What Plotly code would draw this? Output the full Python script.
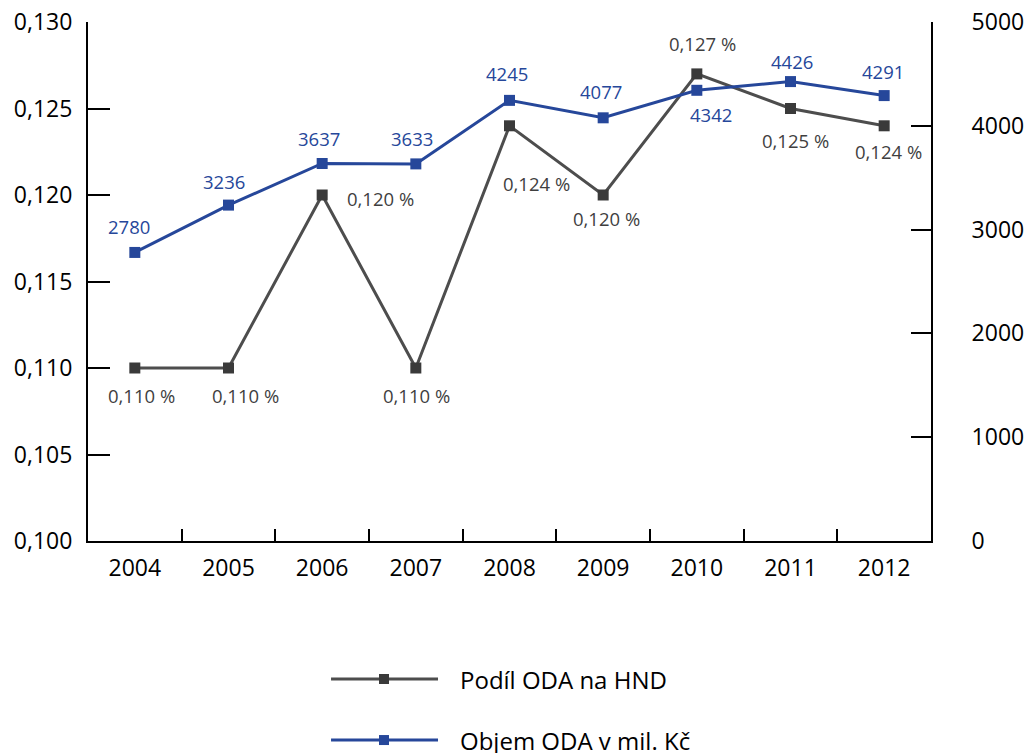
import plotly.graph_objects as go

years = ["2004", "2005", "2006", "2007", "2008", "2009", "2010", "2011", "2012"]
podil = [0.110, 0.110, 0.120, 0.110, 0.124, 0.120, 0.127, 0.125, 0.124]
objem = [2780, 3236, 3637, 3633, 4245, 4077, 4342, 4426, 4291]

# label offsets in px (style only)
podil_dx = [7, 17, 58, 1, 27, 3, 6, 5, 4]
podil_dy = [-27, -27, -3, -27, -58, -23, 30, -32, -26]
objem_dx = [-6, -5, -3, -4, -3, -2, 14, 1, -1]
objem_dy = [26, 24, 25, 25, 27, 26, -24, 20, 24]

gray = "#4d4d4d"
gray_m = "#3a3a3a"
gray_t = "#3f3f3f"
blue = "#26479a"
font = "Open Sans"

podil_text = [("%.3f %%" % v).replace(".", ",") for v in podil]
objem_text = [str(v) for v in objem]

fig = go.Figure()
fig.add_trace(go.Scatter(
    x=years, y=podil, name="Podíl ODA na HND", mode="lines+markers",
    line=dict(color=gray, width=3), marker=dict(symbol="square", size=11, color=gray_m),
    yaxis="y", cliponaxis=False,
))
fig.add_trace(go.Scatter(
    x=years, y=objem, name="Objem ODA v mil. Kč", mode="lines+markers",
    line=dict(color=blue, width=3), marker=dict(symbol="square", size=11, color=blue),
    yaxis="y2", cliponaxis=False,
))

annotations = []
for i, (y, t, dx, dy) in enumerate(zip(podil, podil_text, podil_dx, podil_dy)):
    annotations.append(dict(x=i, y=y, xref="x", yref="y", text=t, showarrow=False,
                            xshift=dx, yshift=dy,
                            font=dict(family=font, size=18.5, color=gray_t)))
for i, (y, t, dx, dy) in enumerate(zip(objem, objem_text, objem_dx, objem_dy)):
    annotations.append(dict(x=i, y=y, xref="x", yref="y2", text=t, showarrow=False,
                            xshift=dx, yshift=dy,
                            font=dict(family=font, size=18.5, color=blue)))

# manual legend (paper coordinates)
shapes = []
leg_items = [("Podíl ODA na HND", gray, gray_m, -0.2659), ("Objem ODA v mil. Kč", blue, blue, -0.3835)]
x0, x1, xm, xt = 0.2883, 0.4152, 0.3511, 0.4389
sw, sh = 10 / 843, 10 / 519
for name, lc, mc, yy in leg_items:
    shapes.append(dict(type="line", xref="paper", yref="paper", x0=x0, x1=x1, y0=yy, y1=yy,
                       line=dict(color=lc, width=3)))
    shapes.append(dict(type="rect", xref="paper", yref="paper", x0=xm - sw / 2, x1=xm + sw / 2,
                       y0=yy - sh / 2, y1=yy + sh / 2, fillcolor=mc, line=dict(width=0)))
    annotations.append(dict(x=xt, y=yy, xref="paper", yref="paper", text=name, showarrow=False,
                            xanchor="left", yanchor="middle",
                            font=dict(family=font, size=24, color="black")))

fig.update_layout(
    width=1030, height=753,
    margin=dict(l=88, r=99, t=22, b=212),
    paper_bgcolor="white", plot_bgcolor="white",
    separators=", ",
    font=dict(family=font, size=23, color="black"),
    showlegend=False,
    annotations=annotations, shapes=shapes,
    xaxis=dict(type="category", tickson="boundaries", ticks="inside", ticklen=12,
               tickwidth=2, tickcolor="black", showline=True, linecolor="black", linewidth=2,
               showgrid=False, tickfont=dict(size=23), ticklabelstandoff=5, zeroline=False,
               automargin=False, range=[-0.5, 8.5]),
    yaxis=dict(range=[0.100, 0.130], dtick=0.005, tickformat=".3f", ticks="inside",
               ticklen=22, tickwidth=2, tickcolor="black", showline=True, linecolor="black",
               linewidth=2, showgrid=False, zeroline=False, tickfont=dict(size=23),
               ticklabelstandoff=9, automargin=False),
    yaxis2=dict(range=[0, 5000], dtick=1000, overlaying="y", side="right", ticks="inside",
                ticklen=20, tickwidth=2, tickcolor="black", showline=True, linecolor="black",
                linewidth=2, showgrid=False, zeroline=False, tickfont=dict(size=23),
                ticklabelstandoff=34, tickformat="d", automargin=False),
)

fig.write_html("out.html", config={"displayModeBar": False},
               post_script="document.body.style.margin='0';")
